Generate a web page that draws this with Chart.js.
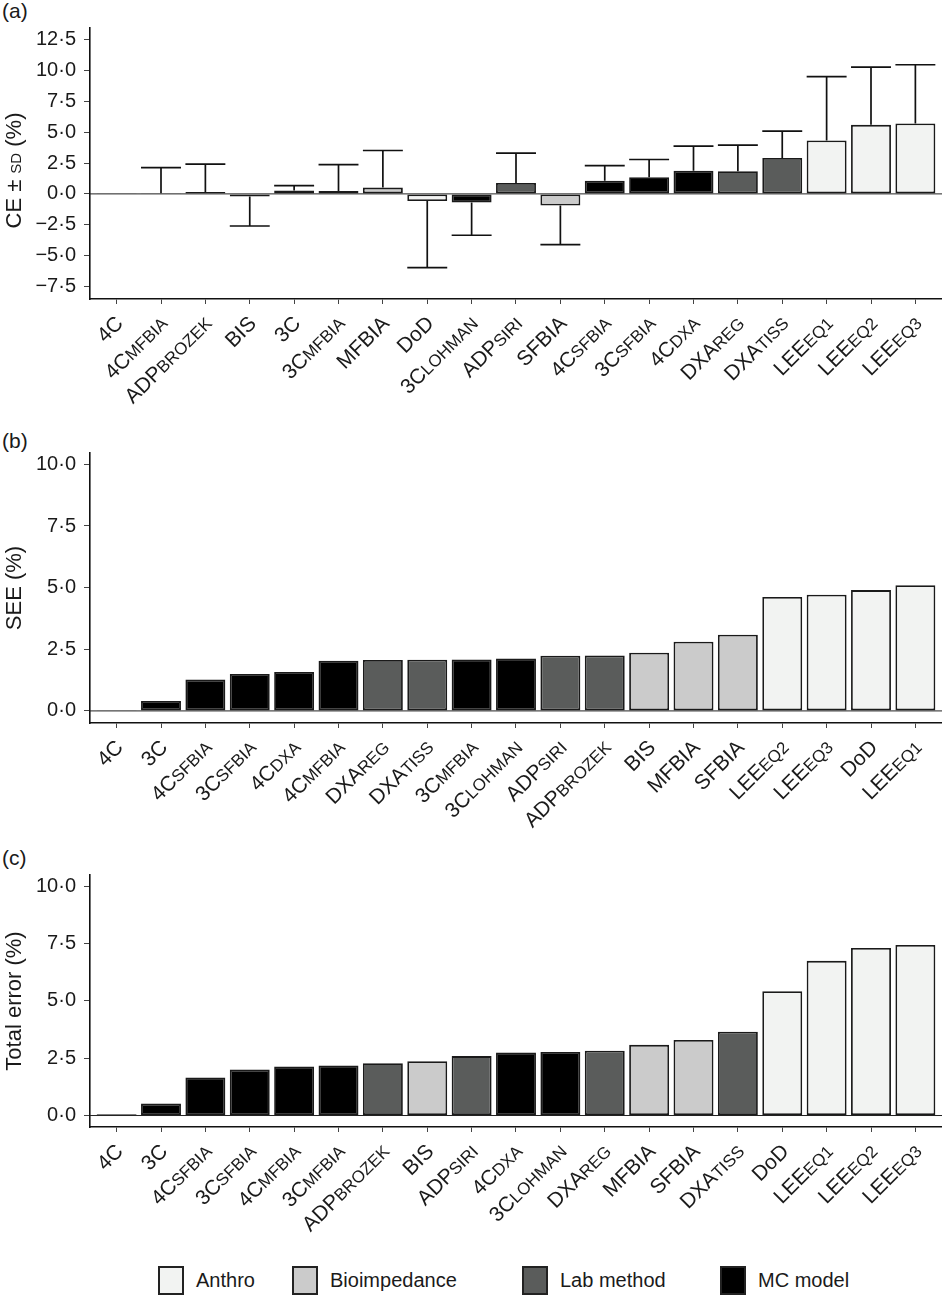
<!DOCTYPE html>
<html lang="en">
<head>
<meta charset="UTF-8">
<title>CE, SEE and total error by method</title>
<script src="https://cdn.jsdelivr.net/npm/chart.js"></script>
<style>
  body { margin: 0; background: #fff; font-family: "Liberation Sans", Arial, sans-serif; color: #1a1a1a; }
  #page { position: relative; width: 942px; height: 1304px; }
  canvas { position: absolute; left: 0; }
  .tag { position: absolute; left: 2px; font-size: 21px; }
  .key { position: absolute; top: 1266px; height: 28px; display: flex; align-items: center; font-size: 20px; }
  .key span { display: inline-block; width: 22px; height: 25px; border: 2px solid #222; margin-right: 12px; }
</style>
</head>
<body>
<div id="page">
  <div class="tag" style="top:-1px">(a)</div>
  <div class="tag" style="top:429px">(b)</div>
  <div class="tag" style="top:846px">(c)</div>
  <canvas id="chartA" width="942" height="420" style="top:0"></canvas>
  <canvas id="chartB" width="942" height="420" style="top:425px"></canvas>
  <canvas id="chartC" width="942" height="400" style="top:847px"></canvas>
  <div class="key" style="left:158px"><span style="background:#f2f3f2"></span>Anthro</div>
  <div class="key" style="left:292px"><span style="background:#cbcbcb"></span>Bioimpedance</div>
  <div class="key" style="left:522px"><span style="background:#5a5c5b"></span>Lab method</div>
  <div class="key" style="left:720px"><span style="background:#000"></span>MC model</div>
</div>

<script>
// method names: text after "_" is drawn as small subscript
const labelsA = ['4C', '4C_MFBIA', 'ADP_BROZEK', 'BIS', '3C', '3C_MFBIA', 'MFBIA', 'DoD', '3C_LOHMAN', 'ADP_SIRI',
                 'SFBIA', '4C_SFBIA', '3C_SFBIA', '4C_DXA', 'DXA_REG', 'DXA_TISS', 'LEE_EQ1', 'LEE_EQ2', 'LEE_EQ3'];
const ceA = [0.05, 0.05, 0.16, -0.22, 0.27, 0.24, 0.51, -0.57, -0.70, 0.89,
             -0.95, 1.06, 1.35, 1.87, 1.84, 2.92, 4.33, 5.60, 5.71];
const sdA = [0, 2.08, 2.25, 2.38, 0.40, 2.14, 3.01, 5.41, 2.65, 2.41,
             3.16, 1.24, 1.44, 2.00, 2.11, 2.17, 5.17, 4.68, 4.76];

const labelsB = ['4C', '3C', '4C_SFBIA', '3C_SFBIA', '4C_DXA', '4C_MFBIA', 'DXA_REG', 'DXA_TISS', '3C_MFBIA', '3C_LOHMAN',
                 'ADP_SIRI', 'ADP_BROZEK', 'BIS', 'MFBIA', 'SFBIA', 'LEE_EQ2', 'LEE_EQ3', 'DoD', 'LEE_EQ1'];
const seeB = [0.03, 0.40, 1.27, 1.50, 1.58, 2.03, 2.07, 2.08, 2.09, 2.13,
              2.24, 2.25, 2.36, 2.81, 3.09, 4.62, 4.71, 4.90, 5.10];

const labelsC = ['4C', '3C', '4C_SFBIA', '3C_SFBIA', '4C_MFBIA', '3C_MFBIA', 'ADP_BROZEK', 'BIS', 'ADP_SIRI', '4C_DXA',
                 '3C_LOHMAN', 'DXA_REG', 'MFBIA', 'SFBIA', 'DXA_TISS', 'DoD', 'LEE_EQ1', 'LEE_EQ2', 'LEE_EQ3'];
const totalC = [0.06, 0.52, 1.66, 2.00, 2.14, 2.18, 2.28, 2.37, 2.59, 2.75,
                2.77, 2.82, 3.08, 3.29, 3.65, 5.42, 6.74, 7.30, 7.43];

const ticksA = [-7.5, -5, -2.5, 0, 2.5, 5, 7.5, 10, 12.5];
const ticksBC = [0, 2.5, 5, 7.5, 10];

// method type of each method
const methodType = {
  '4C': 'MC', '3C': 'MC', '4C_MFBIA': 'MC', '3C_MFBIA': 'MC', '3C_LOHMAN': 'MC',
  '4C_SFBIA': 'MC', '3C_SFBIA': 'MC', '4C_DXA': 'MC',
  'ADP_BROZEK': 'Lab', 'ADP_SIRI': 'Lab', 'DXA_REG': 'Lab', 'DXA_TISS': 'Lab',
  'BIS': 'Bio', 'MFBIA': 'Bio', 'SFBIA': 'Bio',
  'DoD': 'Anthro', 'LEE_EQ1': 'Anthro', 'LEE_EQ2': 'Anthro', 'LEE_EQ3': 'Anthro'
};
const typeColor = { Anthro: '#f2f3f2', Bio: '#cbcbcb', Lab: '#5a5c5b', MC: '#000000' };

const FONT = '"Liberation Sans", Arial, sans-serif';
const MAIN_PX = 21, SUB_PX = 17;

function fmt(v) {
  return (v < 0 ? '\u2212' : '') + Math.abs(v).toFixed(1).replace('.', '\u00b7');
}

function makePanel(id, labels, values, sd, yMin, yMax, yTicks, xAxisH, titleParts, titleShift) {
  const extras = {
    id: 'extras',
    beforeDatasetsDraw(chart) {
      const { ctx, chartArea } = chart;
      const y0 = chart.scales.y.getPixelForValue(0);
      ctx.save();
      ctx.strokeStyle = '#222';
      ctx.lineWidth = 1;
      ctx.beginPath();
      ctx.moveTo(chartArea.left, y0);
      ctx.lineTo(chartArea.right, y0);
      ctx.stroke();
      ctx.restore();
    },
    afterDatasetsDraw(chart) {
      if (!sd) return;
      const ctx = chart.ctx;
      const ys = chart.scales.y;
      const meta = chart.getDatasetMeta(0);
      ctx.save();
      ctx.strokeStyle = '#111';
      ctx.lineWidth = 1.7;
      sd.forEach((s, i) => {
        if (!s) return;
        const bar = meta.data[i];
        const v = values[i];
        const yv = ys.getPixelForValue(v);
        const ye = ys.getPixelForValue(v + Math.sign(v) * s);
        const half = bar.width / 2;
        ctx.beginPath();
        ctx.moveTo(bar.x, yv);
        ctx.lineTo(bar.x, ye);
        ctx.moveTo(bar.x - half, ye);
        ctx.lineTo(bar.x + half, ye);
        ctx.stroke();
      });
      ctx.restore();
    },
    afterDraw(chart) {
      const { ctx, chartArea } = chart;
      const xs = chart.scales.x;
      ctx.save();
      ctx.fillStyle = '#1a1a1a';
      ctx.textBaseline = 'alphabetic';
      ctx.textAlign = 'left';
      // rotated category labels with small subscripts
      labels.forEach((lab, i) => {
        const [main, sub] = lab.split('_');
        ctx.save();
        ctx.translate(xs.getPixelForValue(i) - 3, chartArea.bottom + 15);
        ctx.rotate(-Math.PI / 4);
        ctx.font = MAIN_PX + 'px ' + FONT;
        const wm = ctx.measureText(main).width;
        ctx.font = SUB_PX + 'px ' + FONT;
        const ws = sub ? ctx.measureText(sub).width : 0;
        ctx.font = MAIN_PX + 'px ' + FONT;
        ctx.fillText(main, -wm - ws, 15);
        if (sub) {
          ctx.font = SUB_PX + 'px ' + FONT;
          ctx.fillText(sub, -ws, 15);
        }
        ctx.restore();
      });
      // y axis title
      let total = 0;
      titleParts.forEach(([t, s]) => { ctx.font = s + 'px ' + FONT; total += ctx.measureText(t).width; });
      ctx.translate(21, (chartArea.top + chartArea.bottom) / 2 + titleShift);
      ctx.rotate(-Math.PI / 2);
      let x = -total / 2;
      titleParts.forEach(([t, s]) => {
        ctx.font = s + 'px ' + FONT;
        ctx.fillText(t, x, 0);
        x += ctx.measureText(t).width;
      });
      ctx.restore();
    }
  };

  return new Chart(document.getElementById(id), {
    type: 'bar',
    data: {
      datasets: [{
        data: values.map((v, i) => ({ x: i, y: v })),
        backgroundColor: labels.map(l => typeColor[methodType[l]]),
        borderColor: '#1a1a1a',
        borderWidth: 1.8,
        borderSkipped: false,
        categoryPercentage: 1,
        barPercentage: 0.9
      }]
    },
    options: {
      responsive: false,
      animation: false,
      layout: { padding: { top: 28, left: 0, right: 0, bottom: 0 } },
      plugins: { legend: { display: false }, tooltip: { enabled: false } },
      scales: {
        x: {
          type: 'linear',
          offset: false,
          bounds: 'data',
          min: -0.6,
          max: labels.length - 0.4,
          afterBuildTicks: s => { s.ticks = labels.map((l, i) => ({ value: i })); },
          afterFit: s => { s.height = xAxisH; },
          ticks: { display: false },
          grid: { offset: false, drawOnChartArea: false, tickLength: 5, color: '#444', lineWidth: 1 },
          border: { display: true, color: '#111', width: 1.6 }
        },
        y: {
          min: yMin,
          max: yMax,
          afterBuildTicks: s => { s.ticks = yTicks.map(v => ({ value: v })); },
          afterFit: s => { s.width = 90; },
          ticks: { callback: v => fmt(v), font: { size: 20, family: FONT }, color: '#1a1a1a', padding: 8 },
          grid: { drawOnChartArea: false, tickLength: 6, color: '#444', lineWidth: 1 },
          border: { display: true, color: '#111', width: 1.6 }
        }
      }
    },
    plugins: [extras]
  });
}

makePanel('chartA', labelsA, ceA, sdA, -8.52, 13.45, ticksA, 121,
          [['CE \u00b1 ', 22], ['SD', 15], [' (%)', 22]], 7);
makePanel('chartB', labelsB, seeB, null, -0.49, 10.46, ticksBC, 122,
          [['SEE (%)', 22]], 0);
makePanel('chartC', labelsC, totalC, null, -0.5, 10.48, ticksBC, 120,
          [['Total error (%)', 22]], 0);
</script>
</body>
</html>
